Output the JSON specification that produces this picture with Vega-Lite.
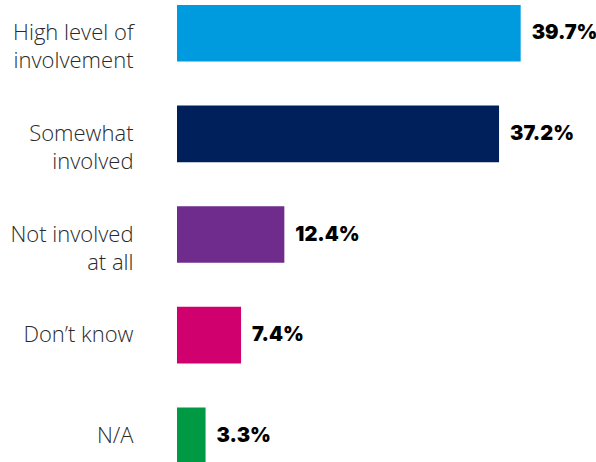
{
  "$schema": "https://vega.github.io/schema/vega-lite/v6.json",
  "width": 419,
  "height": 459,
  "autosize": {"type": "none"},
  "padding": {"left": 177, "top": 5, "right": 0, "bottom": 0},
  "background": "white",
  "data": {
    "values": [
      {"category": "High level of|involvement", "value": 39.7, "label": "39.7%", "color": "#009ADE"},
      {"category": "Somewhat|involved", "value": 37.2, "label": "37.2%", "color": "#00205B"},
      {"category": "Not involved|at all", "value": 12.4, "label": "12.4%", "color": "#6F2C8C"},
      {"category": "Don’t know", "value": 7.4, "label": "7.4%", "color": "#D0006F"},
      {"category": "N/A", "value": 3.3, "label": "3.3%", "color": "#009A44"}
    ]
  },
  "encoding": {
    "y": {
      "field": "category",
      "type": "nominal",
      "sort": null,
      "scale": {"paddingInner": 0.438, "paddingOuter": 0},
      "axis": {
        "title": null,
        "domain": false,
        "ticks": false,
        "labelPadding": 44,
        "labelFont": "Open Sans",
        "labelFontWeight": 300,
        "labelFontSize": 22,
        "labelColor": "#2a2a2a",
        "labelLineHeight": 28,
        "labelLimit": 300,
        "labelExpr": "split(datum.label, '|')"
      }
    },
    "x": {
      "field": "value",
      "type": "quantitative",
      "scale": {"domain": [0, 48.4], "nice": false},
      "axis": null
    }
  },
  "layer": [
    {
      "mark": {"type": "bar"},
      "encoding": {
        "color": {"field": "color", "type": "nominal", "scale": null}
      }
    },
    {
      "mark": {
        "type": "text",
        "align": "left",
        "baseline": "middle",
        "dx": 11,
        "font": "Inter",
        "fontWeight": 900,
        "fontSize": 20,
        "color": "#000000"
      },
      "encoding": {
        "text": {"field": "label"}
      }
    }
  ],
  "config": {"view": {"stroke": null}}
}
